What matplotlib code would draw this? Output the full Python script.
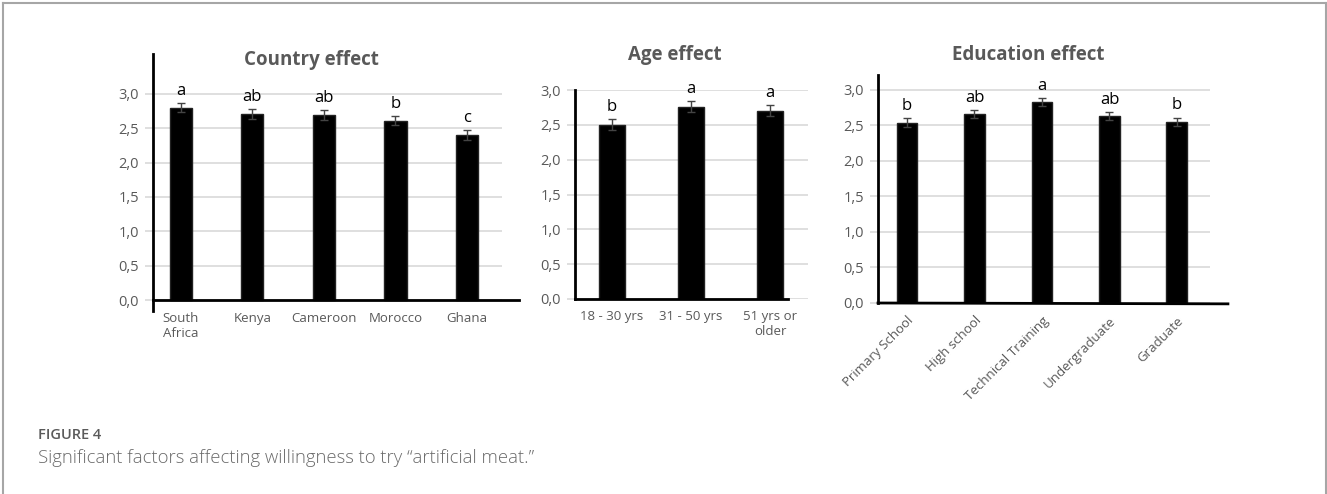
import matplotlib
matplotlib.use("Agg")
import matplotlib.pyplot as plt
from matplotlib.lines import Line2D

plt.rcParams['font.family'] = ['Open Sans', 'DejaVu Sans']

# data
countries = ["South\nAfrica", "Kenya", "Cameroon", "Morocco", "Ghana"]
country_means = [2.80, 2.71, 2.69, 2.61, 2.40]
country_err = [0.07, 0.07, 0.07, 0.07, 0.07]
country_letters = ["a", "ab", "ab", "b", "c"]

ages = ["18 - 30 yrs", "31 - 50 yrs", "51 yrs or\nolder"]
age_means = [2.50, 2.76, 2.70]
age_err = [0.08, 0.08, 0.08]
age_letters = ["b", "a", "a"]

education = ["Primary School", "High school", "Technical Training", "Undergraduate", "Graduate"]
edu_means = [2.54, 2.66, 2.83, 2.63, 2.55]
edu_err = [0.06, 0.06, 0.06, 0.06, 0.06]
edu_letters = ["b", "ab", "a", "ab", "b"]

W, H = 1327, 494
fig = plt.figure(figsize=(W / 100, H / 100), dpi=100)

GRID = '#d9d9d9'
TXT = '#595959'


def px_axes(x0, x1, ytop, ybot):
    return fig.add_axes([x0 / W, 1 - ybot / H, (x1 - x0) / W, (ybot - ytop) / H])


def draw_panel(ax, labels, means, errs, letters, xlim, ylim, width,
               zero_end, rot=0):
    x = list(range(len(labels)))
    ax.bar(x, means, width=width, color='black', edgecolor='#222222', zorder=3)
    ax.errorbar(x, means, yerr=errs, fmt='none', ecolor='#444444', elinewidth=1,
                capsize=3, capthick=1, zorder=4)
    for xi, m, e, l in zip(x, means, errs, letters):
        ax.annotate(l, (xi, m + e), xytext=(0, 3), textcoords='offset points',
                    ha='center', va='bottom', fontsize=12, color='black')
    ax.set_xlim(*xlim)
    ax.set_ylim(*ylim)
    ax.set_yticks([0, 0.5, 1.0, 1.5, 2.0, 2.5, 3.0])
    ax.set_yticklabels(['0,0', '0,5', '1,0', '1,5', '2,0', '2,5', '3,0'])
    ax.yaxis.grid(True, color=GRID, linewidth=1.2, zorder=0)
    ax.tick_params(axis='y', length=6, color=GRID, width=1.2, labelsize=10.5,
                   labelcolor=TXT, pad=4)
    ax.set_xticks(x)
    if rot:
        ax.set_xticklabels(labels, rotation=rot, ha='right', va='top',
                           rotation_mode='anchor')
    else:
        ax.set_xticklabels(labels)
    ax.tick_params(axis='x', length=0, labelsize=9.5, labelcolor=TXT, pad=8)
    for s in ['top', 'right', 'bottom']:
        ax.spines[s].set_visible(False)
    ax.spines['left'].set_linewidth(2)
    # black zero line, running past the grid on the right
    ax.add_line(Line2D([0, zero_end[0]], [0, zero_end[1]],
                       transform=ax.get_yaxis_transform(),
                       color='black', linewidth=2, clip_on=False, zorder=5))


# country effect
ax1 = px_axes(153, 502, 54, 311)
draw_panel(ax1, countries, country_means, country_err, country_letters,
           (-0.39, 4.49), (-0.16, 3.58), 0.31, (1.05, 0))
ax1.get_xticklabels()[0].set_multialignment('left')
ax1.tick_params(axis='x', pad=1)
fig.text(311 / W, 1 - 60 / H, "Country effect", fontsize=13.5, fontweight='bold',
         color=TXT, ha='center', va='center')

# age effect
ax2 = px_axes(575, 808, 90, 299)
draw_panel(ax2, ages, age_means, age_err, age_letters,
           (-0.47, 2.48), (0, 3.0), 0.32, (0.914, 0))
fig.text(675 / W, 1 - 55 / H, "Age effect", fontsize=13.5, fontweight='bold',
         color=TXT, ha='center', va='center')

# education effect
ax3 = px_axes(878, 1210, 75, 303)
draw_panel(ax3, education, edu_means, edu_err, edu_letters,
           (-0.43, 4.49), (0, 3.21), 0.31, (1.054, -0.012), rot=45)
fig.text(1028 / W, 1 - 55 / H, "Education effect", fontsize=13.5, fontweight='bold',
         color=TXT, ha='center', va='center')

# caption
fig.text(38 / W, 1 - 435 / H, "FIGURE 4", fontsize=10.5, color='#5a5a5a',
         fontweight='semibold', va='center', ha='left')
fig.text(38 / W, 1 - 458 / H, "Significant factors affecting willingness to try \u201cartificial meat.\u201d",
         fontsize=13.3, color='#6a6a6a', fontweight='light', va='center', ha='left')

# thin frame round the figure (no bottom edge)
frame = '#a6a6a6'
fig.add_artist(Line2D([3 / W, 3 / W], [0, 1 - 3 / H], color=frame, linewidth=1.5))
fig.add_artist(Line2D([3 / W, 1326 / W], [1 - 3 / H, 1 - 3 / H], color=frame, linewidth=1.5))
fig.add_artist(Line2D([1326 / W, 1326 / W], [0, 1 - 3 / H], color=frame, linewidth=1.5))

fig.savefig("out.png", dpi=100)
